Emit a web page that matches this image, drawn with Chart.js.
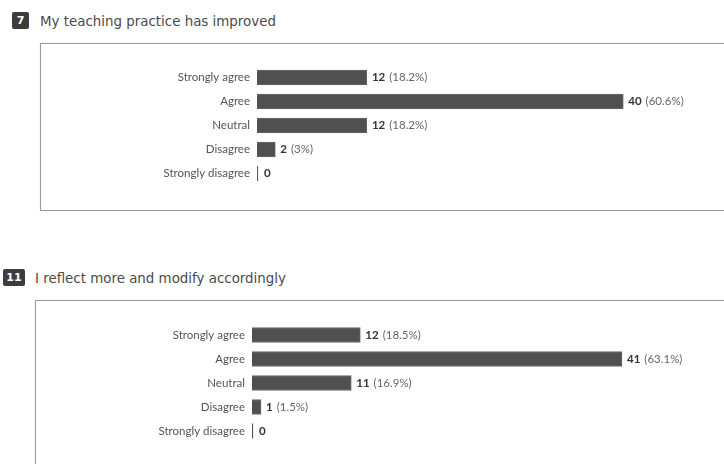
<!DOCTYPE html>
<html>
<head>
<meta charset="utf-8">
<script src="https://cdn.jsdelivr.net/npm/chart.js@4.4.0/dist/chart.umd.min.js"></script>
<style>
  body { margin: 0; background: #fff; width: 724px; height: 464px; overflow: hidden; position: relative; font-family: "DejaVu Sans", sans-serif; }
  .badge { position: absolute; height: 17px; background: #3d3d3d; color: #fff; font-size: 11px; font-weight: bold; line-height: 17px; text-align: center; border-radius: 2px; }
  .title { position: absolute; font-size: 13.4px; color: #4a4a4a; line-height: 16px; }
  .box { position: absolute; border: 1px solid #9a9a9a; box-shadow: 0 0 1px #ccc; }
  .wrap { position: absolute; left: 0; width: 724px; }
</style>
</head>
<body>
<div class="badge" style="left:12px; top:12px; width:17px;">7</div>
<div class="title" style="left:40px; top:14px;">My teaching practice has improved</div>
<div class="box" style="left:40px; top:43px; width:700px; height:166px;"></div>
<div class="wrap" style="top:43px; height:167px;"><canvas id="chart1"></canvas></div>

<div class="badge" style="left:3px; top:269px; width:22px;">11</div>
<div class="title" style="left:35px; top:271px;">I reflect more and modify accordingly</div>
<div class="box" style="left:35px; top:300px; width:700px; height:200px;"></div>
<div class="wrap" style="top:300px; height:164px;"><canvas id="chart2"></canvas></div>

<script>
// Response categories (shared by both questions)
const categories = ["Strongly agree", "Agree", "Neutral", "Disagree", "Strongly disagree"];

// Q7 - My teaching practice has improved
const q7Counts = [12, 40, 12, 2, 0];
const q7Percent = ["18.2%", "60.6%", "18.2%", "3%", ""];

// Q11 - I reflect more and modify accordingly
const q11Counts = [12, 41, 11, 1, 0];
const q11Percent = ["18.5%", "63.1%", "16.9%", "1.5%", ""];

// Draws "12 (18.2%)" after each bar
const valueLabels = {
  id: "valueLabels",
  afterDatasetsDraw(chart) {
    const ctx = chart.ctx;
    const meta = chart.getDatasetMeta(0);
    const counts = chart.data.datasets[0].data;
    const pcts = chart.options.plugins.valueLabels.percents;
    ctx.save();
    ctx.textBaseline = "middle";
    meta.data.forEach((bar, i) => {
      let x = bar.x + 5;
      if (counts[i] === 0) x = bar.x + 6;
      ctx.font = "bold 11.5px Lato";
      ctx.fillStyle = "#333";
      ctx.textAlign = "left";
      const num = String(counts[i]);
      ctx.fillText(num, x, bar.y);
      if (pcts[i]) {
        const w = ctx.measureText(num).width;
        ctx.font = "11.5px Lato";
        ctx.fillStyle = "#666";
        ctx.fillText("(" + pcts[i] + ")", x + w + 4, bar.y);
      }
    });
    ctx.restore();
  },
};

function makeChart(id, counts, percents, axisWidth, xMax, pad) {
  const ctx = document.getElementById(id).getContext("2d");
  return new Chart(ctx, {
    type: "bar",
    data: {
      labels: categories,
      datasets: [
        {
          data: counts,
          backgroundColor: "#505050",
          borderColor: "#6a6a6a",
          borderWidth: 1,
          barThickness: 15,
          minBarLength: 1,
        },
      ],
    },
    options: {
      indexAxis: "y",
      responsive: true,
      maintainAspectRatio: false,
      animation: false,
      layout: { padding: { top: pad[0], bottom: pad[1], left: 0, right: 0 } },
      plugins: {
        legend: { display: false },
        tooltip: { enabled: false },
        valueLabels: { percents: percents },
      },
      scales: {
        x: { display: false, min: 0, max: xMax },
        y: {
          grid: { display: false, drawTicks: false },
          border: { display: false },
          ticks: { color: "#555", font: { family: "Lato", size: 11.5 }, padding: 7 },
          afterFit(scale) {
            scale.width = axisWidth;
          },
        },
      },
    },
    plugins: [valueLabels],
  });
}

makeChart("chart1", q7Counts, q7Percent, 257, 51, [22.5, 24.5]);
makeChart("chart2", q11Counts, q11Percent, 252, 52.3, [23, 21]);
</script>
</body>
</html>
